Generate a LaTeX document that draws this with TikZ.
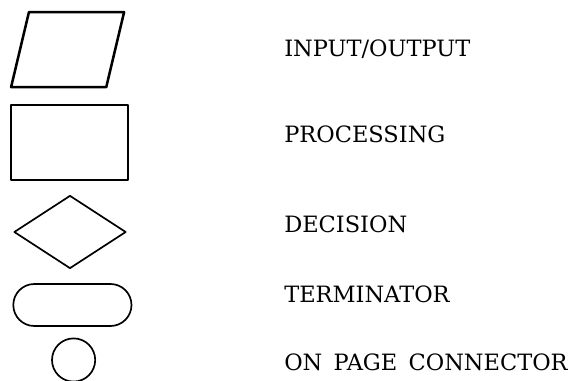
\documentclass[tikz,border=0pt]{standalone}
\usepackage{fontspec}
\setmainfont{DejaVu Serif}
\usepackage{tikz}
\usetikzlibrary{positioning,shapes.geometric,shapes.misc}

\begin{document}
\begin{tikzpicture}[line join=round,
                    sym/.style={draw=black, line width=1.2pt, inner sep=1pt},
                    lbl/.style={anchor=base west, inner sep=0pt,
                                font=\fontsize{16}{19}\selectfont}]
\useasboundingbox (0,0) rectangle (14.5,9.5);
\node[sym, line width=1.8pt, trapezium, trapezium stretches=true,
      trapezium left angle=77, trapezium right angle=103,
      minimum width=2.825cm, minimum height=1.875cm] (io) at (1.69,8.26) {};
\node[sym, line width=1.8pt, rectangle, minimum width=2.925cm,
      minimum height=1.875cm] (proc) at (1.74,5.94) {};
\node[sym, diamond, aspect=1.53, minimum width=2.8cm,
      minimum height=1.825cm] (dec) at (1.75,3.7) {};
\node[sym, rounded rectangle, minimum width=3.025cm,
      minimum height=1.05cm] (term) at (1.81,1.875) {};
\node[sym, circle, minimum size=1.08cm] (conn) at (1.84,0.5) {};
% labels
\node[lbl] (iotxt) at (7.1,8.075) {INPUT/OUTPUT};
\node[lbl] (proctxt) at (7.1,5.925) {PROCESSING};
\node[lbl] (dectxt) at (7.1,3.675) {DECISION};
\node[lbl] (termtxt) at (7.1,1.95) {TERMINATOR};
\node[lbl] (conntxt) at (7.1,0.25) {ON\hspace{0.5em}PAGE\hspace{0.5em}CONNECTOR};
\end{tikzpicture}
\end{document}
